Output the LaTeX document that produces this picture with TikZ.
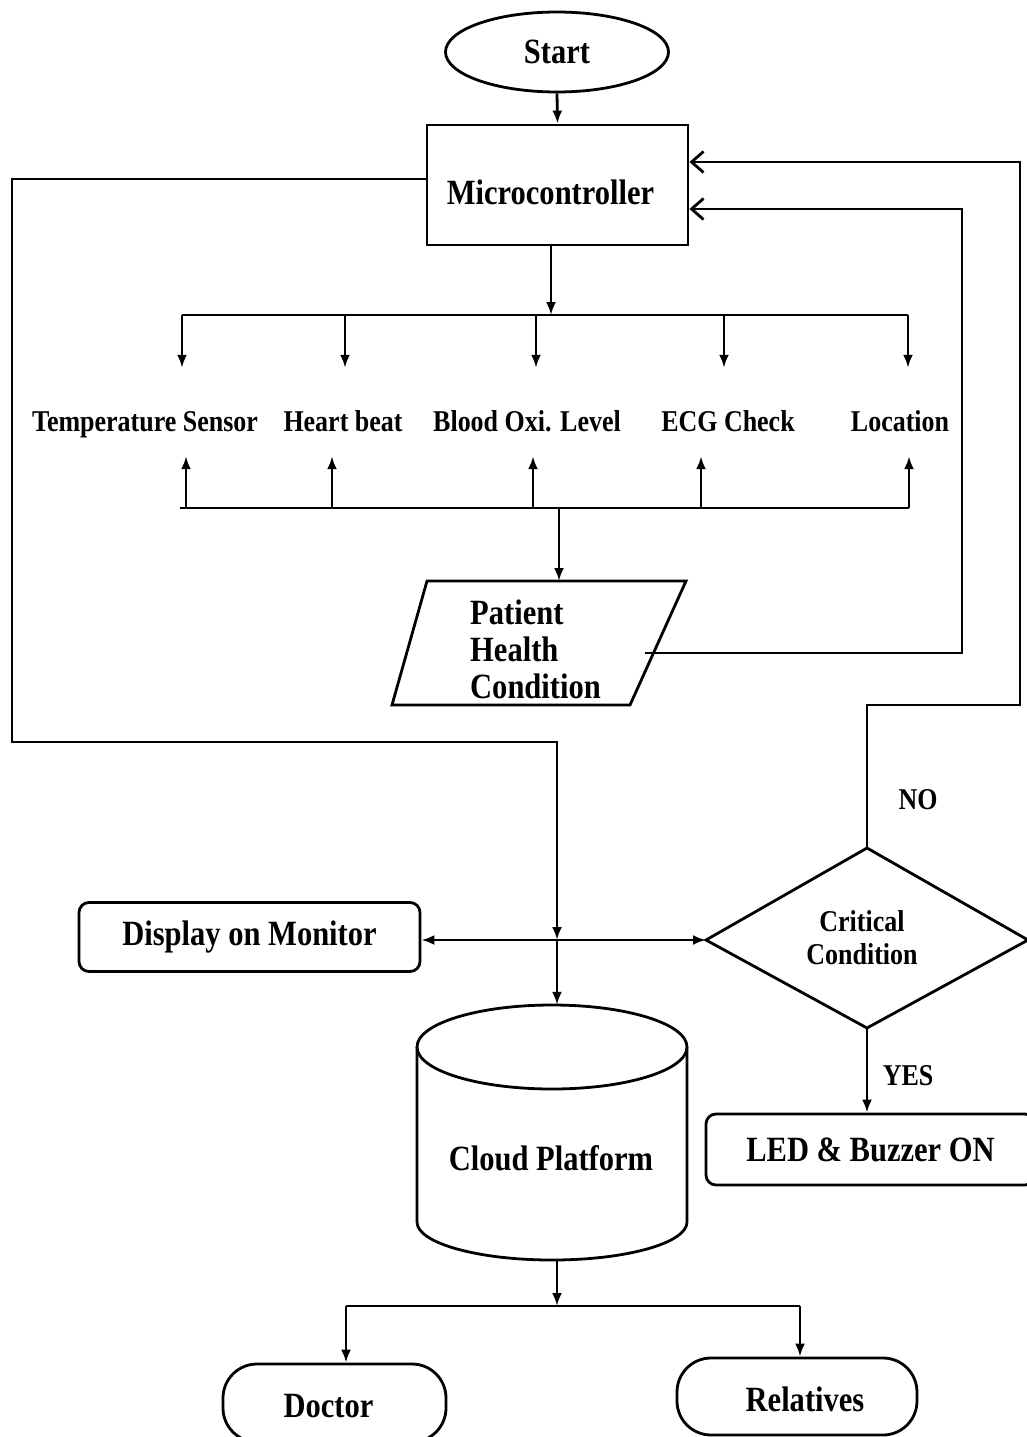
\documentclass[tikz,border=0pt]{standalone}
\usepackage{fontspec}
\setmainfont{Liberation Serif}[FakeStretch=0.86]
\usetikzlibrary{arrows.meta,shapes.geometric}
\begin{document}
\begin{tikzpicture}[x=1pt,y=-1pt,
  ln/.style={line width=2.8pt},
  tip/.tip={Latex[length=13pt,width=10pt]},
  arr/.style={ln,-tip},
  openarr/.style={ln,-{Straight Barb[length=12pt,width=21pt,line width=2.8pt]}},
  big/.style={font=\fontsize{35.5}{37}\selectfont\bfseries},
  small/.style={font=\fontsize{30.2}{33}\selectfont\bfseries},
  lab/.style={small,inner sep=0pt,text height=21pt,text depth=7pt},
  rbox/.style={draw,ln,rounded corners=10pt,inner sep=0pt,big}]
\useasboundingbox (0,0) rectangle (1027,1437);
\clip (0,0) rectangle (1027,1437);

% top
\node[ellipse,draw,ln,minimum width=223pt,minimum height=80pt,inner sep=0pt,big] (start) at (557,52) {Start};
\node[draw,ln,minimum width=261pt,minimum height=120pt,inner sep=0pt,
  label={[big,inner sep=0pt,xshift=-7pt,yshift=-7pt]center:Microcontroller}] (mc) at (557.5,185) {};
\draw[arr] (start.south) -- (mc.north);

% sensor labels
\node[lab] (s1) at (145,424) {Temperature Sensor};
\node[lab] (s2) at (343,424) {Heart beat};
\node[lab] (s3) at (527,424) {Blood Oxi. Level};
\node[lab] (s4) at (728,424) {ECG Check};
\node[lab] (s5) at (900,424) {Location};

% top bus
\coordinate (btc) at (551,315);
\coordinate (bt1) at (182,315);
\coordinate (bt2) at (345,315);
\coordinate (bt3) at (536,315);
\coordinate (bt4) at (724,315);
\coordinate (bt5) at (908,315);
\draw[arr] (mc.south -| btc) -- (btc);
\draw[ln] (bt1) -- (bt5);
\foreach \i in {1,...,5}{\draw[arr,shorten >=42pt] (bt\i) -- (bt\i |- s\i.north);}

% bottom bus
\coordinate (bbc) at (559,508);
\coordinate (bb1) at (186,508);
\coordinate (bb2) at (332,508);
\coordinate (bb3) at (533,508);
\coordinate (bb4) at (701,508);
\coordinate (bb5) at (909,508);
\draw[ln] (180,508) -- (bb5);
\foreach \i in {1,...,5}{\draw[arr,shorten >=18pt] (bb\i) -- (bb\i |- s\i.south);}

% patient health condition
\coordinate (p1) at (427,581);
\coordinate (p2) at (686,581);
\coordinate (p3) at (630,705);
\coordinate (p4) at (392,705);
\draw[ln,line join=miter] (p1) -- (p2) -- (p3) -- (p4) -- cycle;
\node[anchor=west,align=left,inner sep=0pt,big] (phc) at (470,649) {Patient\\Health\\Condition};
\draw[arr] (bbc) -- (bbc |- p1);

% feedback loops to microcontroller
\coordinate (r2s) at (645,653);
\draw[openarr] (r2s) -- (962,653) |- ([yshift=-24pt]mc.east);

% diamond
\coordinate (dN) at (867,848);
\coordinate (dE) at (1028,940);
\coordinate (dS) at (867,1028);
\coordinate (dW) at (706,940);
\draw[ln,line join=miter] (dN) -- (dE) -- (dS) -- (dW) -- cycle;
\node[small,align=center,inner sep=0pt] (crit) at (862,938) {Critical\\Condition};
\draw[openarr] (dN) |- (1020,705) |- ([yshift=23pt]mc.east);
\node[small,inner sep=0pt] (no) at (918,800) {NO};

% left loop and junction
\coordinate (J) at (557,940);
\draw[arr] ([yshift=6pt]mc.west) -| (12,742) -| (J);
\node[rbox,minimum width=341pt,minimum height=69pt] (disp) at (249.5,937) {Display on Monitor};
\draw[ln,tip-tip] (disp.east |- J) -- (dW);

% LED
\node[rbox,minimum width=329pt,minimum height=71pt] (led) at (870.5,1149.5) {LED \& Buzzer ON};
\draw[arr] (dS) -- (dS |- led.north);
\node[small,inner sep=0pt] (yes) at (908,1076) {YES};

% cloud cylinder
\node[minimum width=270pt,minimum height=255pt,inner sep=0pt] (cl) at (552,1132.5) {};
\draw[ln] (552,1047) ellipse [x radius=135pt,y radius=42pt];
\draw[ln] (417,1047) -- (417,1222) arc[start angle=180,end angle=360,x radius=135pt,y radius=38pt] -- (687,1047);
\node[big,inner sep=0pt] (cltxt) at (551,1158) {Cloud Platform};
\draw[arr] (J) -- (J |- cl.north);

% bottom
\coordinate (cb) at (557,1306);
\coordinate (cbl) at (346,1306);
\coordinate (cbr) at (800,1306);
\draw[arr] (cl.south -| cb) -- (cb);
\draw[ln] (cbl) -- (cbr);
\node[draw,ln,rounded corners=34pt,minimum width=223pt,minimum height=78pt,inner sep=0pt,
  label={[big,inner sep=0pt,xshift=-6pt,yshift=-3pt]center:Doctor}] (doc) at (334.5,1403) {};
\node[draw,ln,rounded corners=34pt,minimum width=240pt,minimum height=77pt,inner sep=0pt,
  label={[big,inner sep=0pt,xshift=8pt,yshift=-3pt]center:Relatives}] (rel) at (797,1396.5) {};
\draw[arr] (cbl) -- (cbl |- doc.north);
\draw[arr] (cbr) -- (cbr |- rel.north);
\end{tikzpicture}
\end{document}
